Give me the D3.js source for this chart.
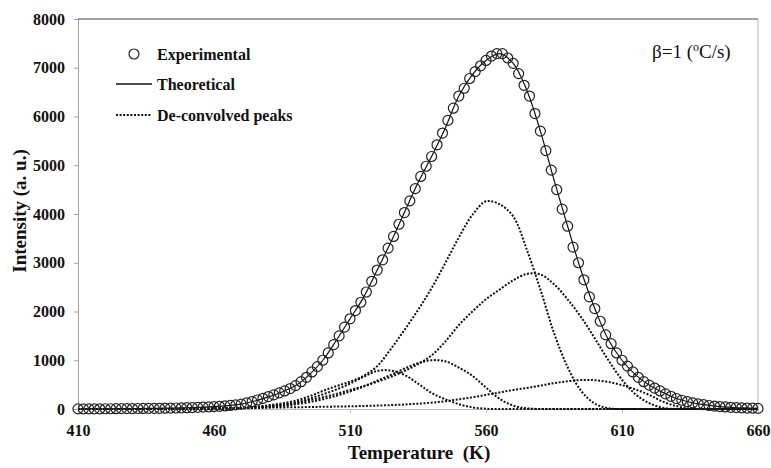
<!DOCTYPE html>
<html>
<head>
<meta charset="utf-8">
<script src="https://cdn.jsdelivr.net/npm/d3@7"></script>
<style>
  body { margin: 0; background: #fff; }
  svg text { font-family: "Liberation Serif", "Times New Roman", serif; }
</style>
</head>
<body>
<div id="chart"></div>
<script>
// --- DATA ---
const expTemps = d3.range(410, 661, 2);
const expValues = [
  3, 3, 3, 4, 4, 5, 5, 6, 7, 8,
  9, 10, 11, 12, 13, 14, 16, 18, 21, 24,
  27, 30, 34, 38, 43, 48, 55, 63, 73, 85,
  100, 125, 150, 185, 220, 255, 290, 330, 370, 420,
  480, 560, 650, 760, 870, 1000, 1150, 1320, 1500, 1680,
  1850, 2020, 2190, 2400, 2620, 2850, 3060, 3300, 3540, 3790,
  4030, 4270, 4520, 4770, 4980, 5180, 5420, 5660, 5920, 6170,
  6420, 6580, 6780, 6920, 7040, 7150, 7240, 7290, 7290, 7200,
  7090, 6880, 6640, 6420, 6060, 5700, 5300, 4900, 4500, 4100,
  3750, 3320, 3000, 2650, 2300, 2060, 1800, 1520, 1340, 1150,
  1000, 880, 760, 650, 560, 490, 430, 370, 310, 260,
  215, 180, 150, 125, 105, 88, 72, 60, 50, 42,
  35, 30, 25, 20, 16, 12
];

const fitTemps = d3.range(410, 661, 5);
const theoretical = [
  2, 3, 4, 6, 8, 11, 14, 19, 26, 35,
  48, 68, 100, 165, 250, 350, 480, 700, 1000, 1410,
  1850, 2290, 2850, 3420, 4030, 4640, 5180, 5760, 6420, 6860,
  7150, 7290, 7090, 6540, 5700, 4700, 3750, 2830, 2060, 1420,
  1000, 700, 490, 340, 215, 138, 88, 55, 35, 22,
  12
];
const peakA = [
  0, 0, 0, 0, 0, 0, 0, 0, 2, 4,
  8, 14, 25, 45, 75, 115, 170, 260, 370, 470,
  560, 680, 880, 1230, 1620, 2030, 2480, 2990, 3520, 3980,
  4260, 4200, 3950, 3270, 2450, 1560, 860, 370, 110, 15,
  0, 0, 0, 0, 0, 0, 0, 0, 0, 0,
  0
];
const peakB = [
  0, 0, 0, 0, 0, 0, 1, 2, 3, 5,
  8, 13, 20, 33, 50, 80, 125, 180, 240, 310,
  390, 470, 560, 660, 780, 920, 1100, 1380, 1720, 2000,
  2250, 2450, 2640, 2770, 2760, 2560, 2250, 1880, 1450, 1000,
  600, 300, 120, 25, 0, 0, 0, 0, 0, 0,
  0
];
const peakC = [
  0, 0, 0, 0, 0, 0, 0, 0, 0, 1,
  3, 6, 12, 22, 38, 60, 95, 140, 200, 270,
  360, 460, 580, 700, 830, 940, 1000, 980, 850, 680,
  440, 210, 70, 15, 0, 0, 0, 0, 0, 0,
  0, 0, 0, 0, 0, 0, 0, 0, 0, 0,
  0
];
const peakD = [
  0, 0, 0, 0, 0, 0, 0, 0, 1, 2,
  5, 10, 20, 35, 60, 90, 130, 210, 300, 400,
  520, 660, 780, 790, 700, 520, 330, 200, 100, 35,
  5, 0, 0, 0, 0, 0, 0, 0, 0, 0,
  0, 0, 0, 0, 0, 0, 0, 0, 0, 0,
  0
];
const peakE = [
  0, 0, 0, 0, 0, 0, 3, 5, 7, 10,
  13, 16, 20, 24, 28, 32, 36, 40, 45, 50,
  55, 62, 70, 80, 92, 110, 130, 160, 200, 240,
  290, 340, 390, 430, 480, 530, 570, 595, 590, 555,
  490, 400, 290, 150, 60, 10, 0, 0, 0, 0,
  0
];
const peaks = [peakA, peakB, peakC, peakD, peakE];

const xTicks = [410, 460, 510, 560, 610, 660];
const yTicks = [0, 1000, 2000, 3000, 4000, 5000, 6000, 7000, 8000];

// --- SETUP ---
const width = 771, height = 468;
const margin = {top: 19, right: 13, bottom: 59, left: 78};
const innerW = width - margin.left - margin.right;
const innerH = height - margin.top - margin.bottom;

const svg = d3.select("#chart").append("svg")
    .attr("width", width)
    .attr("height", height);

const g = svg.append("g")
    .attr("transform", `translate(${margin.left},${margin.top})`);

const x = d3.scaleLinear().domain([410, 660]).range([0, innerW]);
const y = d3.scaleLinear().domain([0, 8000]).range([innerH, 0]);

// --- AXES ---
const yAxis = g.append("g")
    .call(d3.axisLeft(y).tickValues(yTicks).tickSize(4).tickPadding(9).tickFormat(d3.format("d")));
yAxis.select(".domain").attr("stroke", "#a0a0a0");
yAxis.selectAll(".tick line").attr("stroke", "#a0a0a0");
yAxis.selectAll("text")
    .attr("font-size", 16)
    .attr("font-weight", "bold")
    .attr("fill", "#111");

const xAxis = g.append("g")
    .attr("transform", `translate(0,${innerH})`)
    .call(d3.axisBottom(x).tickValues(xTicks).tickSize(4).tickPadding(12).tickFormat(d3.format("d")));
xAxis.select(".domain").attr("stroke", "#bdbdbd");
xAxis.selectAll(".tick line").attr("stroke", "#bdbdbd");
xAxis.selectAll("text")
    .attr("font-size", 16)
    .attr("font-weight", "bold")
    .attr("fill", "#111");

// plot area border (top + right)
g.append("line")
    .attr("x1", 0).attr("x2", innerW).attr("y1", 0).attr("y2", 0)
    .attr("stroke", "#444").attr("stroke-width", 1);
g.append("line")
    .attr("x1", innerW).attr("x2", innerW).attr("y1", 0).attr("y2", innerH)
    .attr("stroke", "#b0b0b0").attr("stroke-width", 1);

// --- SERIES ---
const line = d3.line()
    .x(d => x(d[0]))
    .y(d => y(d[1]))
    .curve(d3.curveCatmullRom.alpha(0.5));

g.append("g").selectAll("path")
    .data(peaks)
    .join("path")
    .attr("d", p => line(fitTemps.map((t, i) => [t, p[i]])))
    .attr("fill", "none")
    .attr("stroke", "#111")
    .attr("stroke-width", 2)
    .attr("stroke-dasharray", "2,1.6");

g.append("path")
    .attr("d", line(fitTemps.map((t, i) => [t, theoretical[i]])))
    .attr("fill", "none")
    .attr("stroke", "#111")
    .attr("stroke-width", 1.2);

g.append("g").selectAll("circle")
    .data(expTemps.map((t, i) => [t, expValues[i]]))
    .join("circle")
    .attr("cx", d => x(d[0]))
    .attr("cy", d => y(d[1]))
    .attr("r", 5)
    .attr("fill", "none")
    .attr("stroke", "#222")
    .attr("stroke-width", 1.2);

// --- LEGEND ---
const legend = svg.append("g");
legend.append("circle")
    .attr("cx", 134).attr("cy", 54).attr("r", 5)
    .attr("fill", "none").attr("stroke", "#222").attr("stroke-width", 1.2);
legend.append("line")
    .attr("x1", 116).attr("x2", 152).attr("y1", 84).attr("y2", 84)
    .attr("stroke", "#111").attr("stroke-width", 1.5);
legend.append("line")
    .attr("x1", 116).attr("x2", 151).attr("y1", 115).attr("y2", 115)
    .attr("stroke", "#111").attr("stroke-width", 2).attr("stroke-dasharray", "2,1.6");
const legendItems = [["Experimental", 60], ["Theoretical", 90], ["De-convolved peaks", 121]];
legend.selectAll("text")
    .data(legendItems)
    .join("text")
    .attr("x", 157)
    .attr("y", d => d[1])
    .attr("font-size", 16)
    .attr("font-weight", "bold")
    .attr("fill", "#111")
    .text(d => d[0]);

// heating rate note
const note = svg.append("text")
    .attr("x", 652).attr("y", 58)
    .attr("font-size", 19)
    .attr("fill", "#111");
note.append("tspan").text("β=1 (");
note.append("tspan").attr("font-size", 12).attr("dy", -7).text("o");
note.append("tspan").attr("dy", 7).text("C/s)");

// --- AXIS TITLES ---
svg.append("text")
    .attr("x", 419)
    .attr("y", 459)
    .attr("text-anchor", "middle")
    .attr("font-size", 19)
    .attr("font-weight", "bold")
    .attr("fill", "#111")
    .attr("xml:space", "preserve")
    .text("Temperature  (K)");

svg.append("text")
    .attr("transform", "translate(26,211) rotate(-90)")
    .attr("text-anchor", "middle")
    .attr("font-size", 19)
    .attr("font-weight", "bold")
    .attr("fill", "#111")
    .text("Intensity (a. u.)");
</script>
</body>
</html>
